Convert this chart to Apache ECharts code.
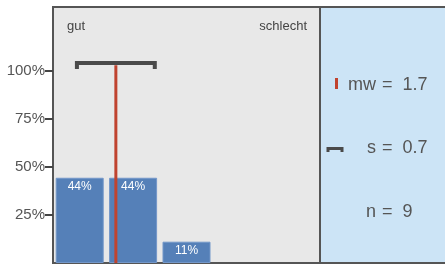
<!DOCTYPE html>
<html>
<head>
<meta charset="utf-8">
<script src="https://cdn.jsdelivr.net/npm/echarts@6/dist/echarts.min.js"></script>
<style>
  html, body { margin: 0; padding: 0; background: #fff; }
  #chart { width: 445px; height: 264px; }
</style>
</head>
<body>
<div id="chart"></div>
<script>
// answer categories 1 (gut) .. 5 (schlecht)
var categories = ['1', '2', '3', '4', '5'];
var percents = [44.4, 44.4, 11.1, 0, 0];
var yTicks = [25, 50, 75, 100];
var mean = 1.7;
var sd = 0.7;
var n = 9;

var FONT = 'Liberation Sans, Arial, sans-serif';

var chart = echarts.init(document.getElementById('chart'));

var option = {
  animation: false,
  textStyle: { fontFamily: FONT },
  grid: {
    left: 53, top: 7, width: 267, height: 256,
    show: true,
    backgroundColor: '#E8E8E8',
    borderColor: '#555',
    borderWidth: 2
  },
  xAxis: [
    {
      type: 'category',
      data: categories,
      show: false
    },
    {
      // value axis for mean / sd marks
      type: 'value',
      min: 0.57,
      max: 5.37,
      show: false
    }
  ],
  yAxis: {
    type: 'value',
    min: 0,
    max: 400 / 3,
    splitLine: { show: false },
    axisLine: { show: false },
    axisTick: {
      show: true,
      customValues: yTicks,
      length: 8,
      lineStyle: { color: '#444', width: 2 }
    },
    axisLabel: {
      customValues: yTicks,
      formatter: '{value}%',
      fontSize: 15,
      color: '#555',
      margin: 8
    }
  },
  series: [
    {
      type: 'bar',
      // empty categories draw no bar at all
      data: percents.map(function (v) { return v > 0 ? v : null; }),
      barWidth: 48,
      itemStyle: { color: '#5580B8', borderColor: '#7397C9', borderWidth: 1 },
      label: {
        show: true,
        position: 'insideTop',
        distance: 3,
        color: '#fff',
        fontSize: 12,
        formatter: function (p) { return p.value > 0 ? Math.round(p.value) + '%' : ''; }
      },
      z: 2
    },
    {
      // mean
      type: 'line',
      xAxisIndex: 1,
      data: [[mean, 0], [mean, 103]],
      symbol: 'none',
      lineStyle: { color: '#C0432F', width: 3 },
      z: 3
    },
    {
      // standard deviation bracket
      type: 'line',
      xAxisIndex: 1,
      data: [[mean - sd, 101], [mean - sd, 104.2], [mean + sd, 104.2], [mean + sd, 101]],
      symbol: 'none',
      lineStyle: { color: '#4A4A4A', width: 4, cap: 'butt', join: 'miter' },
      z: 4
    }
  ],
  graphic: [
    {
      type: 'rect',
      shape: { x: 320, y: 7, width: 130, height: 256 },
      style: { fill: '#CCE4F6', stroke: '#555', lineWidth: 2 },
      z: 10
    },
    {
      type: 'text', left: 67, top: 20,
      style: { text: 'gut', fontSize: 13, fill: '#444', fontFamily: FONT }
    },
    {
      type: 'text', right: 138, top: 20,
      style: { text: 'schlecht', fontSize: 13, fill: '#444', fontFamily: FONT, textAlign: 'right' }
    },
    {
      type: 'rect',
      shape: { x: 335, y: 78, width: 3, height: 11 },
      style: { fill: '#C0432F' },
      z: 11
    },
    {
      type: 'polyline',
      shape: { points: [[328, 152], [328, 148.5], [342, 148.5], [342, 152]] },
      style: { stroke: '#4A4A4A', lineWidth: 3, fill: null },
      z: 11
    },
    { type: 'text', x: 376, y: 85, z: 11,
      style: { text: 'mw', fontSize: 18, fill: '#555', fontFamily: FONT, textAlign: 'right', textVerticalAlign: 'middle' } },
    { type: 'text', x: 382, y: 85, z: 11,
      style: { text: '=  ' + mean.toFixed(1), fontSize: 18, fill: '#555', fontFamily: FONT, textVerticalAlign: 'middle' } },
    { type: 'text', x: 376, y: 148, z: 11,
      style: { text: 's', fontSize: 18, fill: '#555', fontFamily: FONT, textAlign: 'right', textVerticalAlign: 'middle' } },
    { type: 'text', x: 382, y: 148, z: 11,
      style: { text: '=  ' + sd.toFixed(1), fontSize: 18, fill: '#555', fontFamily: FONT, textVerticalAlign: 'middle' } },
    { type: 'text', x: 376, y: 212, z: 11,
      style: { text: 'n', fontSize: 18, fill: '#555', fontFamily: FONT, textAlign: 'right', textVerticalAlign: 'middle' } },
    { type: 'text', x: 382, y: 212, z: 11,
      style: { text: '=  ' + n, fontSize: 18, fill: '#555', fontFamily: FONT, textVerticalAlign: 'middle' } }
  ]
};

chart.setOption(option);
</script>
</body>
</html>
